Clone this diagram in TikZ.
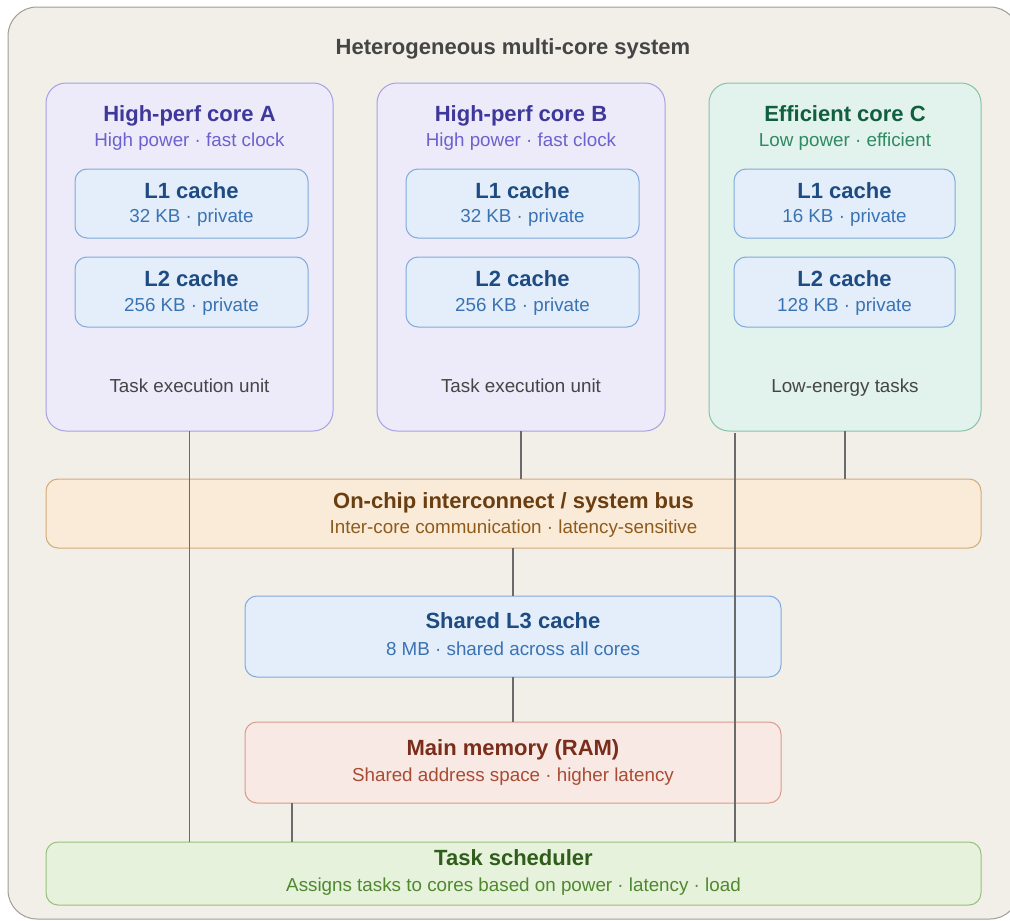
\documentclass[tikz,border=0pt]{standalone}
\usepackage{fontspec}
\setmainfont{Liberation Sans}
\usetikzlibrary{calc}

% palette
\definecolor{bgfill}{HTML}{F2EFE9}
\definecolor{bgline}{HTML}{A09C96}
\definecolor{hpfill}{HTML}{EDEBFA}
\definecolor{hpline}{HTML}{A7A1E4}
\definecolor{hptitle}{HTML}{3E389A}
\definecolor{hpsub}{HTML}{6C61CF}
\definecolor{effill}{HTML}{E1F3EC}
\definecolor{efline}{HTML}{86C2A8}
\definecolor{eftitle}{HTML}{115E40}
\definecolor{efsub}{HTML}{2E8A62}
\definecolor{cafill}{HTML}{E3EEFA}
\definecolor{caline}{HTML}{80AADA}
\definecolor{catitle}{HTML}{1E4C82}
\definecolor{casub}{HTML}{3A73B4}
\definecolor{icfill}{HTML}{FAEBD8}
\definecolor{icline}{HTML}{D4AA78}
\definecolor{ictitle}{HTML}{6A3E10}
\definecolor{icsub}{HTML}{8E5B1C}
\definecolor{ramfill}{HTML}{F9E9E4}
\definecolor{ramline}{HTML}{DA9B8A}
\definecolor{ramtitle}{HTML}{7A2D1A}
\definecolor{ramsub}{HTML}{A84B34}
\definecolor{scfill}{HTML}{E7F2DC}
\definecolor{scline}{HTML}{96C07C}
\definecolor{sctitle}{HTML}{2F5D1A}
\definecolor{scsub}{HTML}{4E892E}
\definecolor{wire}{HTML}{6B6B6B}
\definecolor{plain}{HTML}{454545}

\tikzset{
  panel/.style={draw, line width=1pt, inner sep=0pt, outer sep=0pt},
  corebox/.style={panel, rounded corners=20pt},
  cachebox/.style={panel, rounded corners=12pt, fill=cafill, draw=caline},
  barbox/.style={panel, rounded corners=12pt},
  ttl/.style={font=\fontsize{22}{26}\selectfont\bfseries, inner sep=0pt,
              text height=16pt, text depth=5pt},
  sub/.style={font=\fontsize{18.8}{22}\selectfont, inner sep=0pt,
              text height=14pt, text depth=4pt},
  wireline/.style={draw=wire, line width=1.5pt}
}

\begin{document}
\begin{tikzpicture}[x=1pt,y=-1pt]
  \useasboundingbox (0,0) rectangle (1010,921);

  % outer frame (runs past the right edge of the page)
  \node[panel, rounded corners=29pt, fill=bgfill, draw=bgline,
        minimum width=1011pt, minimum height=912pt] (sys) at (513.5,463) {};
  \node[ttl, text=plain] (systitle) at (513,49) {Heterogeneous multi-core system};

  % cores
  \node[corebox, fill=hpfill, draw=hpline, minimum width=287pt, minimum height=348pt] (coreA) at (189.5,257) {};
  \node[corebox, fill=hpfill, draw=hpline, minimum width=288pt, minimum height=348pt] (coreB) at (521,257) {};
  \node[corebox, fill=effill, draw=efline, minimum width=272pt, minimum height=348pt] (coreC) at (845,257) {};

  \node[ttl, text=hptitle] (coreAt) at (189.5,116) {High-perf core A};
  \node[sub, text=hpsub]   (coreAs) at (189.5,141) {High power · fast clock};
  \node[ttl, text=hptitle] (coreBt) at (521,116) {High-perf core B};
  \node[sub, text=hpsub]   (coreBs) at (521,141) {High power · fast clock};
  \node[ttl, text=eftitle] (coreCt) at (845,116) {Efficient core C};
  \node[sub, text=efsub]   (coreCs) at (845,141) {Low power · efficient};

  % private caches
  \node[cachebox, minimum width=233pt, minimum height=69pt] (l1A) at (191.5,203.5) {};
  \node[cachebox, minimum width=233pt, minimum height=69pt] (l1B) at (522.5,203.5) {};
  \node[cachebox, minimum width=221pt, minimum height=69pt] (l1C) at (844.5,203.5) {};
  \node[cachebox, minimum width=233pt, minimum height=70pt] (l2A) at (191.5,292) {};
  \node[cachebox, minimum width=233pt, minimum height=70pt] (l2B) at (522.5,292) {};
  \node[cachebox, minimum width=221pt, minimum height=70pt] (l2C) at (844.5,292) {};

  \foreach \n/\a/\b in {l1A/L1 cache/32 KB · private, l1B/L1 cache/32 KB · private,
                        l1C/L1 cache/16 KB · private, l2A/L2 cache/256 KB · private,
                        l2B/L2 cache/256 KB · private, l2C/L2 cache/128 KB · private}{
    \node[ttl, text=catitle] (\n-t) at ($(\n.center)+(0,-11)$) {\a};
    \node[sub, text=casub]   (\n-s) at ($(\n.center)+(0,14)$) {\b};
  }

  \node[sub, text=plain] (coreAu) at (189.5,387) {Task execution unit};
  \node[sub, text=plain] (coreBu) at (521,387) {Task execution unit};
  \node[sub, text=plain] (coreCu) at (845,387) {Low-energy tasks};

  % shared parts
  \node[barbox, fill=icfill, draw=icline, minimum width=935pt, minimum height=69pt] (bus) at (513.5,513.5) {};
  \node[ttl, text=ictitle] (bus-t) at (513.5,503) {On-chip interconnect / system bus};
  \node[sub, text=icsub]   (bus-s) at (513.5,528) {Inter-core communication · latency-sensitive};

  \node[barbox, fill=cafill, draw=caline, minimum width=536pt, minimum height=81pt] (l3) at (513,636.5) {};
  \node[ttl, text=catitle] (l3-t) at (513,623) {Shared L3 cache};
  \node[sub, text=casub]   (l3-s) at (513,650) {8 MB · shared across all cores};

  \node[barbox, fill=ramfill, draw=ramline, minimum width=536pt, minimum height=81pt] (ram) at (513,762.5) {};
  \node[ttl, text=ramtitle] (ram-t) at (513,750) {Main memory (RAM)};
  \node[sub, text=ramsub]   (ram-s) at (513,776) {Shared address space · higher latency};

  \node[barbox, fill=scfill, draw=scline, minimum width=935pt, minimum height=63pt] (sched) at (513.5,873.5) {};
  \node[ttl, text=sctitle] (sched-t) at (513.5,860) {Task scheduler};
  \node[sub, text=scsub]   (sched-s) at (513.5,886) {Assigns tasks to cores based on power · latency · load};

  % connectors
  \coordinate (cTap) at (735,433);
  \coordinate (ramTap) at (292,803);
  \draw[wireline] (coreA.south) -- (coreA.south |- sched.north);
  \draw[wireline] (coreB.south) -- (coreB.south |- bus.north);
  \draw[wireline] (coreC.south) -- (coreC.south |- bus.north);
  \draw[wireline] (cTap) -- (cTap |- sched.north);
  \draw[wireline] (l3.north |- bus.south) -- (l3.north);
  \draw[wireline] (l3.south) -- (ram.north);
  \draw[wireline] (ramTap) -- (ramTap |- sched.north);
\end{tikzpicture}
\end{document}
